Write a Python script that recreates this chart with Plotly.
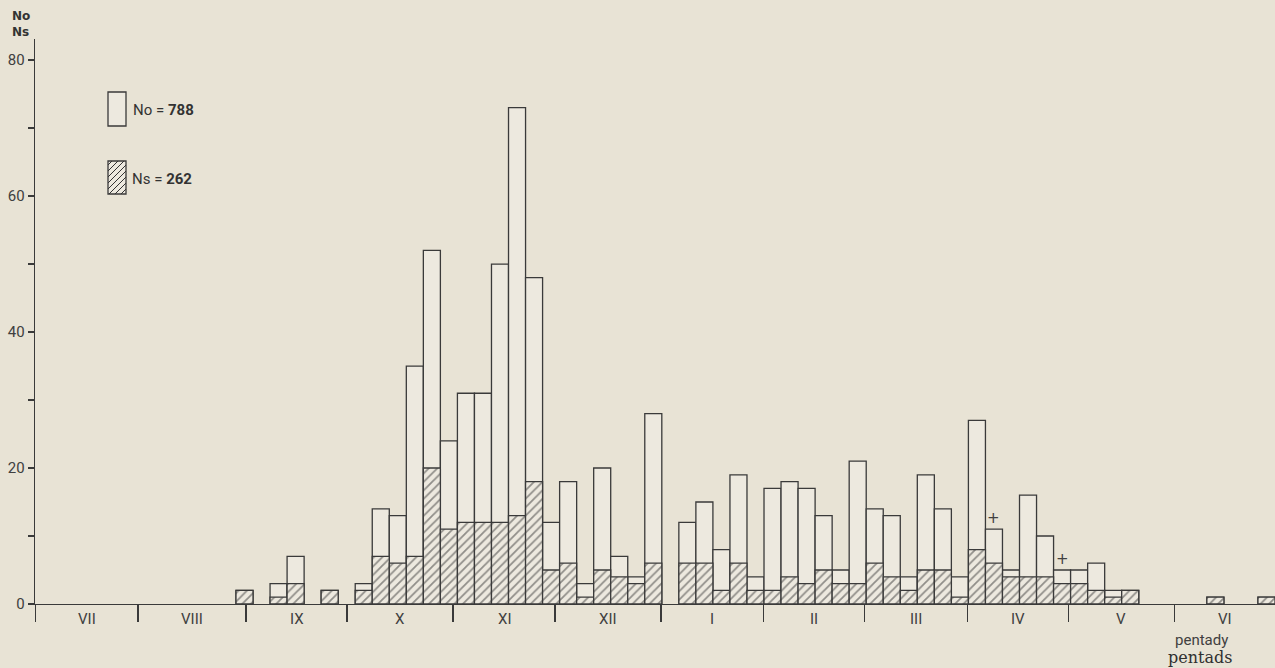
import plotly.graph_objects as go

# ---------------- data ----------------
MONTHS = ["VII", "VIII", "IX", "X", "XI", "XII", "I", "II", "III", "IV", "V", "VI"]
PENTADS = list(range(1, 73))  # pentads 1..72, July -> June

# No : all observations per pentad (open bars)
NO = [
    0, 0, 0, 0, 0, 0,        # VII
    0, 0, 0, 0, 0, 2,        # VIII
    0, 3, 7, 0, 2, 0,        # IX
    3, 14, 13, 35, 52, 24,   # X
    31, 31, 50, 73, 48, 12,  # XI
    18, 3, 20, 7, 4, 28,     # XII
    0, 12, 15, 8, 19, 4,     # I
    17, 18, 17, 13, 5, 21,   # II
    14, 13, 4, 19, 14, 4,    # III
    27, 11, 5, 16, 10, 5,    # IV
    5, 6, 2, 2, 0, 0,        # V
    0, 0, 1, 0, 0, 1,        # VI
]
# Ns : subset per pentad (hatched bars)
NS = [
    0, 0, 0, 0, 0, 0,        # VII
    0, 0, 0, 0, 0, 2,        # VIII
    0, 1, 3, 0, 2, 0,        # IX
    2, 7, 6, 7, 20, 11,      # X
    12, 12, 12, 13, 18, 5,   # XI
    6, 1, 5, 4, 3, 6,        # XII
    0, 6, 6, 2, 6, 2,        # I
    2, 4, 3, 5, 3, 3,        # II
    6, 4, 2, 5, 5, 1,        # III
    8, 6, 4, 4, 4, 3,        # IV
    3, 2, 1, 2, 0, 0,        # V
    0, 0, 1, 0, 0, 1,        # VI
]
PLUS_PENTADS = [56, 60]  # pentads marked with "+"

# ---------------- style / layout constants ----------------
BG = "#E8E3D5"
BAR_FILL = "#EDE9DF"
INK = "#3A3A3A"
HATCH = "#333333"
TEXT = "#404040"
W, H = 1275, 668
PLOT_L, PLOT_R, PLOT_T, PLOT_B = 35, 1275, 39, 604
X_RANGE = [-0.8, 72]
Y_RANGE = [0, 83.1]
# month boundary tick positions (pentad units, as drawn in the original)
MONTH_TICKS = [-0.79, 5.25, 11.59, 17.52, 23.74, 29.73, 35.96, 41.95, 47.88, 53.93, 59.86, 66.08]


def pxx(px):
    return (px - PLOT_L) / (PLOT_R - PLOT_L)


def pxy(py):
    return (PLOT_B - py) / (PLOT_B - PLOT_T)


def bars(values):
    xs = [p - 0.5 for p, v in zip(PENTADS, values) if v > 0]
    ys = [v for v in values if v > 0]
    return xs, ys


fig = go.Figure()

x_no, y_no = bars(NO)
fig.add_trace(go.Bar(
    x=x_no, y=y_no, width=1, name="No",
    marker=dict(color=BAR_FILL, line=dict(color=INK, width=1.3)),
    showlegend=False, hoverinfo="skip",
))
x_ns, y_ns = bars(NS)
fig.add_trace(go.Bar(
    x=x_ns, y=y_ns, width=1, name="Ns",
    marker=dict(color=BAR_FILL, line=dict(color=INK, width=1.3),
                pattern=dict(shape="/", fgcolor=HATCH, bgcolor=BAR_FILL,
                             size=6, solidity=0.3)),
    showlegend=False, hoverinfo="skip",
))

annotations = []
# month labels between boundary ticks
edges = MONTH_TICKS + [X_RANGE[1]]
for i, m in enumerate(MONTHS):
    annotations.append(dict(
        x=(edges[i] + edges[i + 1]) / 2, y=0, xref="x", yref="paper",
        text=m, showarrow=False, xanchor="center", yanchor="middle", yshift=-15,
        font=dict(family="Roboto", size=15, color=TEXT),
    ))
# plus markers above flagged pentads
for p in PLUS_PENTADS:
    annotations.append(dict(
        x=p - 0.5, y=NO[p - 1] + 1.6, xref="x", yref="y", text="+",
        showarrow=False, xanchor="center", yanchor="middle",
        font=dict(family="DejaVu Sans", size=15, color=TEXT),
    ))
# axis title
annotations.append(dict(
    x=pxx(21), y=pxy(24), xref="paper", yref="paper",
    text="<b>No</b><br><b>Ns</b>", showarrow=False, align="left",
    xanchor="center", yanchor="middle",
    font=dict(family="DejaVu Sans", size=12, color="#333333"),
))
# legend texts
annotations.append(dict(
    x=pxx(131), y=pxy(110), xref="paper", yref="paper",
    xanchor="left", yanchor="middle",
    text=f"No = <b>{sum(NO)}</b>", showarrow=False,
    font=dict(family="Roboto", size=15, color="#333333"),
))
annotations.append(dict(
    x=pxx(130), y=pxy(179), xref="paper", yref="paper",
    xanchor="left", yanchor="middle",
    text=f"Ns = <b>{sum(NS)}</b>", showarrow=False,
    font=dict(family="Roboto", size=15, color="#333333"),
))
# pentads caption
annotations.append(dict(
    x=pxx(1201), y=pxy(640), xref="paper", yref="paper",
    xanchor="center", yanchor="middle",
    text="pentady", showarrow=False,
    font=dict(family="Roboto", size=15, color=TEXT),
))
annotations.append(dict(
    x=pxx(1200), y=pxy(657), xref="paper", yref="paper",
    xanchor="center", yanchor="middle",
    text="pentads", showarrow=False,
    font=dict(family="DejaVu Serif", size=16, color="#303030"),
))

shapes = []
# legend swatches
bx0, bx1 = 108, 126
shapes.append(dict(type="rect", xref="paper", yref="paper",
                   x0=pxx(bx0), x1=pxx(bx1), y0=pxy(126), y1=pxy(92),
                   line=dict(color=INK, width=1.3), fillcolor=BAR_FILL))
hy0, hy1 = 161, 194
shapes.append(dict(type="rect", xref="paper", yref="paper",
                   x0=pxx(bx0), x1=pxx(bx1), y0=pxy(hy1), y1=pxy(hy0),
                   line=dict(color=INK, width=1.3), fillcolor=BAR_FILL))
path = ""
c = bx0 + hy0 + 4
while c < bx1 + hy1:
    xa = max(bx0, c - hy1)
    xb = min(bx1, c - hy0)
    if xa < xb:
        path += f"M{pxx(xa)},{pxy(c - xa)} L{pxx(xb)},{pxy(c - xb)} "
    c += 6
shapes.append(dict(type="path", xref="paper", yref="paper", path=path,
                   line=dict(color=HATCH, width=1)))

fig.update_layout(
    width=W, height=H,
    margin=dict(l=PLOT_L, r=W - PLOT_R, t=PLOT_T, b=H - PLOT_B, pad=0),
    paper_bgcolor=BG, plot_bgcolor=BG,
    barmode="overlay", bargap=0,
    showlegend=False,
    xaxis=dict(range=X_RANGE, showline=True, linecolor=INK, linewidth=1.3,
               ticks="outside", tickvals=MONTH_TICKS, ticklen=17, tickwidth=1.3,
               tickcolor=INK, showticklabels=False, showgrid=False,
               zeroline=False, fixedrange=True),
    yaxis=dict(range=Y_RANGE, showline=True, linecolor=INK, linewidth=1.3,
               ticks="outside", tickvals=[0, 20, 40, 60, 80], ticklen=6,
               tickwidth=1.3, tickcolor=INK,
               minor=dict(tickvals=[10, 30, 50, 70], ticks="outside",
                          ticklen=6, tickwidth=1.3, tickcolor=INK),
               tickfont=dict(family="Roboto", size=15, color=TEXT),
               showgrid=False, zeroline=False, fixedrange=True),
    annotations=annotations,
    shapes=shapes,
)

fig.write_html(
    "out.html",
    config={"displayModeBar": False, "staticPlot": True},
    post_script="document.body.style.margin='0';"
                "document.body.style.overflow='hidden';"
                "document.body.style.background='" + BG + "';",
)
